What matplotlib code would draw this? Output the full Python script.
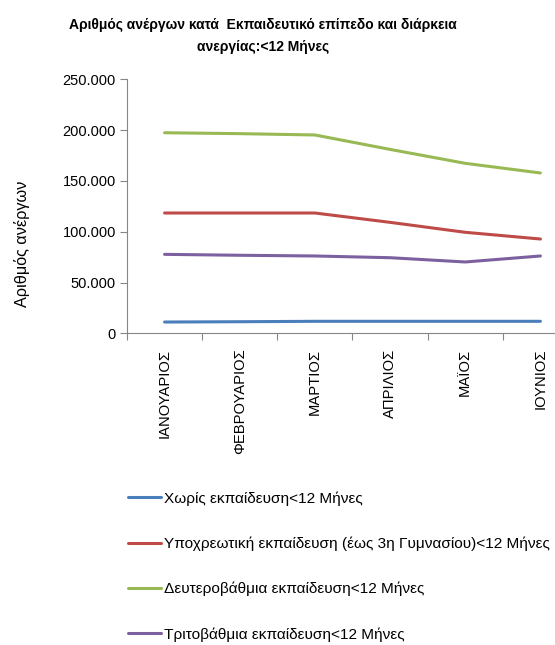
import matplotlib
matplotlib.use("Agg")
import matplotlib.pyplot as plt
from matplotlib.ticker import FuncFormatter, MultipleLocator

plt.rcParams['font.family'] = ['Liberation Sans', 'DejaVu Sans']

months = ["ΙΑΝΟΥΑΡΙΟΣ", "ΦΕΒΡΟΥΑΡΙΟΣ", "ΜΑΡΤΙΟΣ", "ΑΠΡΙΛΙΟΣ", "ΜΑΪΟΣ", "ΙΟΥΝΙΟΣ"]
no_edu = [11100, 11400, 11800, 11800, 11800, 11800]
compulsory = [118400, 118400, 118400, 109200, 99400, 92800]
secondary = [197400, 196500, 195200, 181000, 167300, 157800]
tertiary = [77700, 76800, 76100, 74400, 70200, 76100]

series_names = [
    "Χωρίς εκπαίδευση<12 Μήνες",
    "Υποχρεωτική εκπαίδευση (έως 3η Γυμνασίου)<12 Μήνες",
    "Δευτεροβάθμια εκπαίδευση<12 Μήνες",
    "Τριτοβάθμια εκπαίδευση<12 Μήνες",
]
colors = ["#4A7EBB", "#BE4B48", "#98B954", "#7D60A0"]

W, H = 555, 645
fig = plt.figure(figsize=(W / 100, H / 100), dpi=100)
left, right_px, top_px, bot_px = 127, 578, 79.3, 333.3
ax = fig.add_axes([left / W, 1 - bot_px / H, (right_px - left) / W, (bot_px - top_px) / H])

x = list(range(len(months)))
handles = []
for vals, c, n in zip([no_edu, compulsory, secondary, tertiary], colors, series_names):
    h, = ax.plot(x, vals, color=c, lw=2.2, solid_capstyle='round', label=n)
    handles.append(h)

ax.set_xlim(-0.5, len(months) - 0.5)
ax.set_ylim(0, 250000)
ax.yaxis.set_major_locator(MultipleLocator(50000))
ax.yaxis.set_major_formatter(FuncFormatter(lambda v, p: f"{int(v):,}".replace(",", ".")))
ax.set_xticks(x)
ax.set_xticklabels(months, rotation=90, fontsize=10.6)
ax.set_xticks([i - 0.5 for i in range(len(months) + 1)], minor=True)
ax.tick_params(axis='x', which='major', length=0, pad=11)
ax.tick_params(axis='x', which='minor', length=5, color='#868686', width=0.8, direction='out')
ax.tick_params(axis='y', length=5, color='#868686', width=0.8, labelsize=10.5, pad=3)

for s in ['top', 'right']:
    ax.spines[s].set_visible(False)
for s in ['left', 'bottom']:
    ax.spines[s].set_color('#868686')
    ax.spines[s].set_linewidth(0.8)

fig.text(22 / W, 1 - 244 / H, "Αριθμός ανέργων", rotation=90, ha='center', va='center', fontsize=11.7)
fig.text(263 / W, 1 - 25 / H, "Αριθμός ανέργων κατά  Εκπαιδευτικό επίπεδο και διάρκεια",
         ha='center', va='center', fontsize=10, fontweight='bold')
fig.text(263 / W, 1 - 47 / H, "ανεργίας:<12 Μήνες",
         ha='center', va='center', fontsize=10, fontweight='bold')

fig.legend(handles=handles, labels=series_names, loc='upper left',
           bbox_to_anchor=(122 / W, 1 - 485 / H), frameon=False, fontsize=11.1,
           handlelength=2.1, handletextpad=0.25, labelspacing=2.0, borderaxespad=0)

fig.savefig("out.png", dpi=100)
